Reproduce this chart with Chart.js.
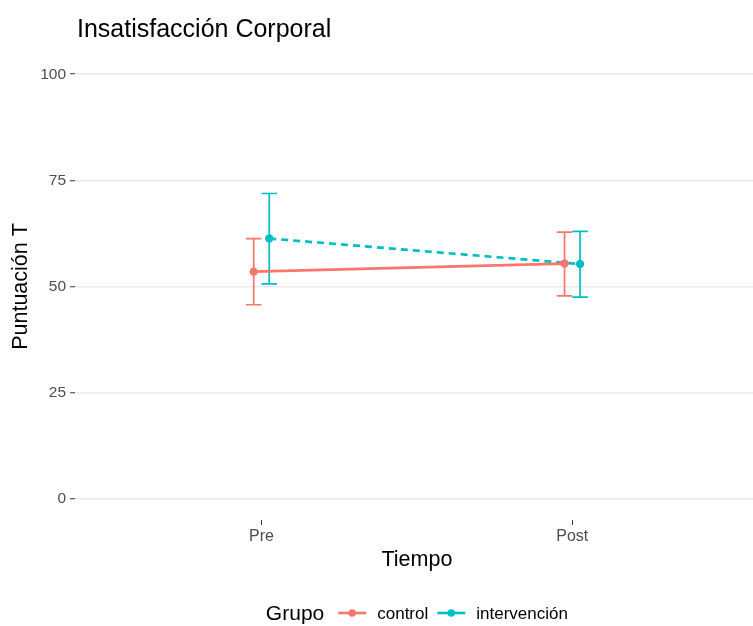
<!DOCTYPE html>
<html><head><meta charset="utf-8">
<script src="https://cdn.jsdelivr.net/npm/chart.js@4/dist/chart.umd.min.js"></script>
<style>html,body{margin:0;padding:0;background:#fff;overflow:hidden;width:753px;height:626px}</style>
</head><body>
<canvas id="c" width="763" height="626"></canvas>
<script>
// ---- data ----
const tiempo = ['Pre', 'Post'];
const grupos = ['control', 'intervención'];
const controlMedia = [53.5, 55.4];
const controlInf = [45.7, 47.8];
const controlSup = [61.3, 62.8];
const intervMedia = [61.3, 55.3];
const intervInf = [50.6, 47.5];
const intervSup = [71.9, 63.0];
const yTicks = [0, 25, 50, 75, 100];
const titulo = 'Insatisfacción Corporal';
const tituloY = 'Puntuación T';
const tituloX = 'Tiempo';
const tituloLeyenda = 'Grupo';

// ---- styles ----
const colores = ['#F8766D', '#00BFC4'];
const dodge = 0.025;
const capHalf = 0.025;
const FONT = "'Liberation Sans', Arial, Helvetica, sans-serif";

function mk(media, inf, sup, off) {
  return tiempo.map((t, i) => ({ x: i + 1 + off, y: media[i], lo: inf[i], hi: sup[i] }));
}
const series = [
  { label: grupos[0], data: mk(controlMedia, controlInf, controlSup, -dodge), dash: [] },
  { label: grupos[1], data: mk(intervMedia, intervInf, intervSup, dodge), dash: [7, 5] }
];

const errorBars = {
  id: 'errorBars',
  beforeDatasetsDraw(chart) {
    const { ctx, scales: { x, y } } = chart;
    chart.data.datasets.forEach(ds => {
      ctx.save();
      ctx.strokeStyle = ds.borderColor;
      ctx.lineWidth = 1.7;
      ds.data.forEach(p => {
        const px = x.getPixelForValue(p.x);
        const x0 = x.getPixelForValue(p.x - capHalf), x1 = x.getPixelForValue(p.x + capHalf);
        const ylo = y.getPixelForValue(p.lo), yhi = y.getPixelForValue(p.hi);
        ctx.beginPath();
        ctx.moveTo(px, ylo); ctx.lineTo(px, yhi);
        ctx.moveTo(x0, ylo); ctx.lineTo(x1, ylo);
        ctx.moveTo(x0, yhi); ctx.lineTo(x1, yhi);
        ctx.stroke();
      });
      ctx.restore();
    });
  }
};

const decor = {
  id: 'decor',
  afterDraw(chart) {
    const ctx = chart.ctx;
    const ca = chart.chartArea;
    ctx.save();
    // title
    ctx.fillStyle = '#000';
    ctx.font = '25px ' + FONT;
    ctx.textBaseline = 'alphabetic';
    ctx.textAlign = 'left';
    ctx.fillText(titulo, 77, 37);
    // legend
    const yL = 613;
    ctx.textBaseline = 'middle';
    ctx.font = '21px ' + FONT;
    const wT = ctx.measureText(tituloLeyenda).width;
    ctx.font = '17px ' + FONT;
    const wl = chart.data.datasets.map(d => ctx.measureText(d.label).width);
    const keyW = 28, g1 = 14, g2 = 11, g3 = 9;
    const total = wT + g1 + (keyW + g2 + wl[0]) + g3 + (keyW + g2 + wl[1]);
    let xx = (ca.left + ca.right) / 2 - total / 2;
    ctx.font = '21px ' + FONT;
    ctx.fillStyle = '#000';
    ctx.fillText(tituloLeyenda, xx, yL + 1);
    xx += wT + g1;
    chart.data.datasets.forEach((d, i) => {
      ctx.strokeStyle = d.borderColor;
      ctx.lineWidth = 2.6;
      ctx.setLineDash([]);
      ctx.beginPath(); ctx.moveTo(xx, yL); ctx.lineTo(xx + keyW, yL); ctx.stroke();
      ctx.fillStyle = d.borderColor;
      ctx.beginPath(); ctx.arc(xx + keyW / 2, yL, 3.8, 0, Math.PI * 2); ctx.fill();
      xx += keyW + g2;
      ctx.font = '17px ' + FONT;
      ctx.fillStyle = '#000';
      ctx.fillText(d.label, xx, yL + 1);
      xx += wl[i] + g3;
    });
    ctx.restore();
  }
};

new Chart(document.getElementById('c'), {
  type: 'line',
  data: {
    datasets: series.map((s, i) => ({
      label: s.label,
      data: s.data,
      borderColor: colores[i],
      backgroundColor: colores[i],
      pointBackgroundColor: colores[i],
      pointBorderWidth: 0,
      pointRadius: 4.2,
      borderWidth: 2.7,
      borderDash: s.dash,
      fill: false,
      tension: 0
    }))
  },
  options: {
    responsive: false,
    animation: false,
    events: [],
    layout: { padding: { top: 53, left: 0, right: 0, bottom: 0 } },
    plugins: { legend: { display: false }, title: { display: false }, tooltip: { enabled: false } },
    scales: {
      x: {
        type: 'linear',
        min: 0.4, max: 2.6,
        afterBuildTicks: s => { s.ticks = tiempo.map((t, i) => ({ value: i + 1 })); },
        afterFit: s => { s.height = 106; },
        ticks: {
          callback: v => tiempo[Math.round(v) - 1],
          font: { size: 16, family: FONT }, color: '#4d4d4d', padding: 2, maxRotation: 0, autoSkip: false
        },
        grid: { drawOnChartArea: false, drawTicks: true, tickLength: 5, tickColor: '#333', tickWidth: 1 },
        border: { display: false },
        title: { display: true, text: tituloX, color: '#000', font: { size: 21.5, family: FONT }, padding: { top: 0, bottom: 53 } }
      },
      y: {
        type: 'linear',
        min: -5, max: 105,
        afterBuildTicks: s => { s.ticks = yTicks.map(v => ({ value: v })); },
        afterFit: s => { s.width = 75; },
        ticks: { font: { size: 15.5, family: FONT }, color: '#4d4d4d', padding: 4 },
        grid: { color: '#EBEBEB', lineWidth: 1.5, tickLength: 5, tickColor: '#333', tickWidth: 1 },
        border: { display: false },
        title: { display: true, text: tituloY, color: '#000', font: { size: 21.5, family: FONT }, padding: { top: 8, bottom: 0 } }
      }
    }
  },
  plugins: [errorBars, decor]
});
</script>
</body></html>
